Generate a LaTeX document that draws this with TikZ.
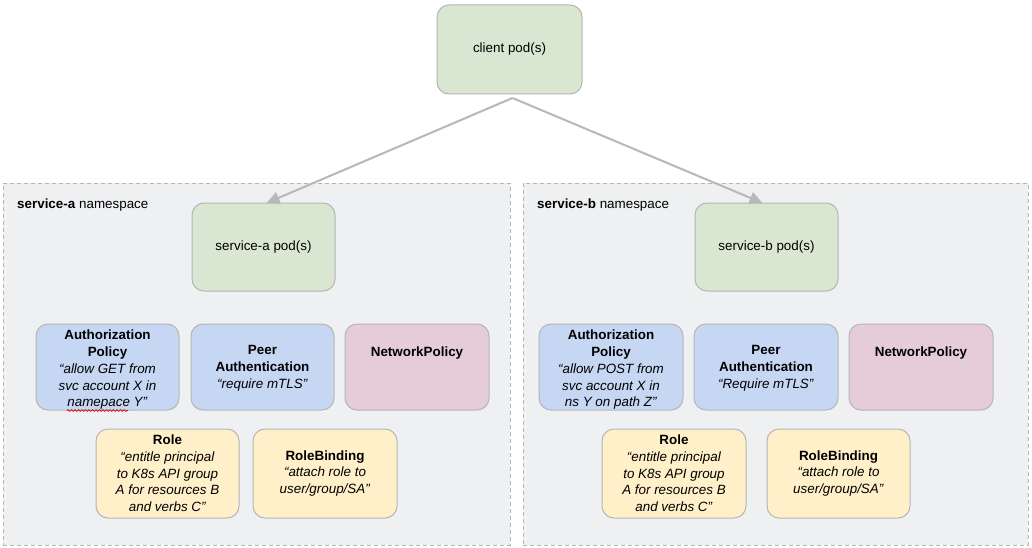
\documentclass[tikz,border=0pt]{standalone}
\usepackage{fontspec}
\setmainfont{Liberation Sans}
\usetikzlibrary{arrows.meta,decorations.pathmorphing}
\definecolor{podgreen}{HTML}{D9E6D1}
\definecolor{polblue}{HTML}{C6D7F4}
\definecolor{polpink}{HTML}{E5CCD8}
\definecolor{polyellow}{HTML}{FFF0C9}
\definecolor{nsfill}{HTML}{EFF0F2}
\definecolor{edgegray}{HTML}{B5B5B5}
\definecolor{arrgray}{HTML}{B8B8B8}
\tikzset{
  box/.style={draw=edgegray, line width=1pt, rounded corners=12pt,
    minimum width=144pt, minimum height=88pt, inner sep=0pt, outer sep=0pt,
    align=center, font=\fontsize{13.4}{16.7}\selectfont},
  pod/.style={box, fill=podgreen},
  bluebox/.style={box, fill=polblue},
  pinkbox/.style={box, fill=polpink},
  yellowbox/.style={box, fill=polyellow},
  nsbox/.style={draw=edgegray, line width=1pt, dash pattern=on 4pt off 3pt,
    fill=nsfill, inner sep=0pt, outer sep=0pt, minimum height=362pt},
  nslabel/.style={anchor=west, inner sep=0pt, font=\fontsize{13.4}{16}\selectfont},
  arr/.style={draw=arrgray, line width=2pt,
    -{Triangle[length=13pt,width=12pt]}},
}
\begin{document}
\begin{tikzpicture}[x=1pt,y=-1pt]
\useasboundingbox[fill=white] (0,0) rectangle (1032,548);
% namespaces
\node[nsbox, minimum width=507pt] (nsa) at (256.5,364) {};
\node[nsbox, minimum width=505pt] (nsb) at (775.5,364) {};
\node[nslabel] (nsalabel) at (17,205) {\textbf{service-a} namespace};
\node[nslabel] (nsblabel) at (537,205) {\textbf{service-b} namespace};
% pods
\node[pod, minimum width=145pt, minimum height=89pt] (client) at (509.5,49.5) {client pod(s)};
\node[pod, minimum width=143pt] (spa) at (263.5,247) {service-a pod(s)};
\node[pod, minimum width=143pt] (spb) at (766.5,247) {service-b pod(s)};
% service-a policies
\node[bluebox, minimum width=143pt, minimum height=86pt] (aza) at (107.5,367)
  {\rule{0pt}{15.5pt}\textbf{Authorization}\\\textbf{Policy}\\\textit{“allow GET from}\\\textit{svc account X in}\\\textit{namepace Y”}};
\node[bluebox, minimum width=143pt, minimum height=86pt] (peera) at (262.5,367)
  {\rule{0pt}{12pt}\textbf{Peer}\\\textbf{Authentication}\\\textit{“require mTLS”}};
\node[pinkbox, minimum height=86pt] (npa) at (417,367)
  {\rule{0pt}{12pt}\textbf{NetworkPolicy}\\\mbox{}\\\mbox{}};
\node[yellowbox, minimum width=143pt, minimum height=89pt] (rolea) at (167.5,473.5)
  {\textbf{Role}\\\textit{“entitle principal}\\\textit{to K8s API group}\\\textit{A for resources B}\\\textit{and verbs C”}};
\node[yellowbox, minimum height=89pt] (rba) at (325,473.5)
  {\textbf{RoleBinding}\\\textit{“attach role to}\\\textit{user/group/SA”}};
% service-b policies
\node[bluebox, minimum height=86pt] (azb) at (611,367)
  {\rule{0pt}{15.5pt}\textbf{Authorization}\\\textbf{Policy}\\\textit{“allow POST from}\\\textit{svc account X in}\\\textit{ns Y on path Z”}};
\node[bluebox, minimum height=86pt] (peerb) at (766,367)
  {\rule{0pt}{12pt}\textbf{Peer}\\\textbf{Authentication}\\\textit{“Require mTLS”}};
\node[pinkbox, minimum height=86pt] (npb) at (921,367)
  {\rule{0pt}{12pt}\textbf{NetworkPolicy}\\\mbox{}\\\mbox{}};
\node[yellowbox, minimum height=89pt] (roleb) at (674,473.5)
  {\textbf{Role}\\\textit{“entitle principal}\\\textit{to K8s API group}\\\textit{A for resources B}\\\textit{and verbs C”}};
\node[yellowbox, minimum width=143pt, minimum height=89pt] (rbb) at (838.5,473.5)
  {\textbf{RoleBinding}\\\textit{“attach role to}\\\textit{user/group/SA”}};
% spell-check squiggle
\draw[red!85!black, line width=0.7pt, decorate,
  decoration={snake, segment length=3.5pt, amplitude=0.9pt}] (67,410.5) -- (128,410.5);
% connectors
\coordinate (cs) at ([xshift=3pt,yshift=-4pt]client.south);
\draw[arr] (cs) -- ([xshift=3pt]spa.north);
\draw[arr] (cs) -- ([xshift=-4pt]spb.north);
\end{tikzpicture}
\end{document}
